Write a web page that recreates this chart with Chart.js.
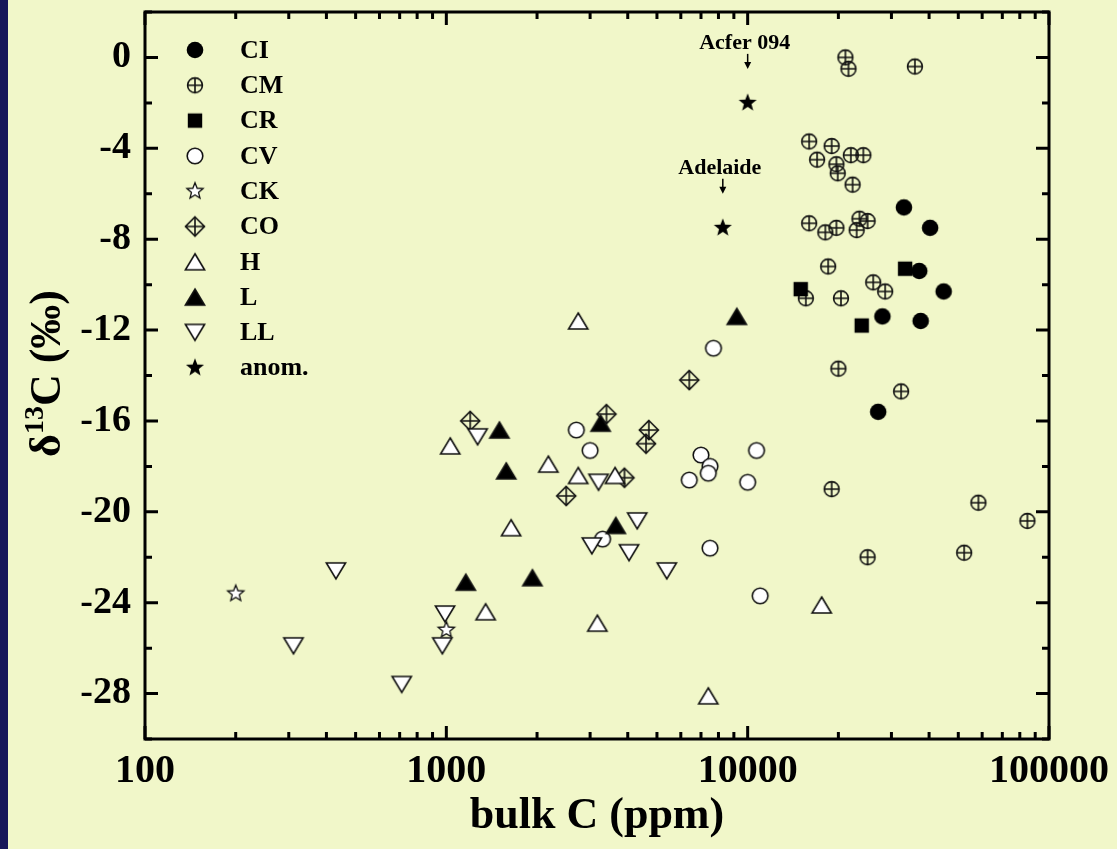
<!DOCTYPE html>
<html>
<head>
<meta charset="utf-8">
<title>bulk C vs d13C</title>
<script src="https://cdn.jsdelivr.net/npm/chart.js@4.4.1/dist/chart.umd.min.js"></script>
<style>
  html, body { margin: 0; padding: 0; background: #F1F7C9; }
  canvas { display: block; }
</style>
</head>
<body>
<canvas id="c13-scatter" width="1117" height="849"></canvas>
<script>
// ---- data: bulk C (ppm) and d13C (permil) per class ----
const ciBulk = [33000, 40300, 37100, 44700, 28000, 37500, 27100];
const ciD13 = [-6.6, -7.5, -9.4, -10.3, -11.4, -11.6, -15.6];

const cmBulk = [21100, 21600, 35900, 16000, 19000, 17000, 22000, 24200, 19700, 19900,
                22300, 16000, 18100, 19700, 23500, 25000, 23000, 18500, 15600, 20400,
                26100, 28600, 20000, 32300, 19000, 25000, 52300, 58300, 84800];
const cmD13 = [0.0, -0.5, -0.4, -3.7, -3.9, -4.5, -4.3, -4.3, -4.7, -5.1,
               -5.6, -7.3, -7.7, -7.5, -7.1, -7.2, -7.6, -9.2, -10.6, -10.6,
               -9.9, -10.3, -13.7, -14.7, -19.0, -22.0, -21.8, -19.6, -20.4];

const crBulk = [15000, 33300, 23900];
const crD13 = [-10.2, -9.3, -11.8];

const cvBulk = [2700, 3000, 7000, 7500, 7400, 6400, 10700, 10000, 3300, 7500, 11000, 7700];
const cvD13 = [-16.4, -17.3, -17.5, -18.0, -18.3, -18.6, -17.3, -18.7, -21.2, -21.6, -23.7, -12.8];

const ckBulk = [200, 1000];
const ckD13 = [-23.6, -25.2];

const coBulk = [1200, 3400, 4700, 4600, 3900, 2500, 6400];
const coD13 = [-16.0, -15.7, -16.4, -17.0, -18.5, -19.3, -14.2];

const hBulk = [1030, 2180, 2740, 3630, 1640, 1350, 3170, 2740, 17600, 7400];
const hD13 = [-17.1, -17.9, -18.4, -18.4, -20.7, -24.4, -24.9, -11.6, -24.1, -28.1];

const lBulk = [1500, 3250, 1580, 3650, 1160, 1930, 9200];
const lD13 = [-16.4, -16.1, -18.2, -20.6, -23.1, -22.9, -11.4];

const llBulk = [1270, 3200, 4300, 3040, 4040, 5390, 990, 430, 311, 711, 970];
const llD13 = [-16.7, -18.7, -20.4, -21.5, -21.8, -22.6, -24.5, -22.6, -25.9, -27.6, -25.9];

const anomBulk = [10000, 8270];
const anomD13 = [-2.0, -7.5];
const anomNames = ['Acfer 094', 'Adelaide'];

const classNames = ['CI', 'CM', 'CR', 'CV', 'CK', 'CO', 'H', 'L', 'LL', 'anom.'];
const xTickVals = [100, 1000, 10000, 100000];
const yTickVals = [-28, -24, -20, -16, -12, -8, -4, 0];

// ---- styling ----
const BG = '#F1F7C9';
const NAVY = '#17175a';
const INK = '#111';
const SERIF = '"Liberation Serif", "Times New Roman", serif';

function markerImage(kind) {
    const S = 28, m = S / 2;
    const c = document.createElement('canvas');
    c.width = S; c.height = S;
    const g = c.getContext('2d');
    g.lineWidth = 1.6;
    g.strokeStyle = INK;
    g.fillStyle = '#fff';

    const star = (ro, ri) => {
        g.beginPath();
        for (let i = 0; i < 10; i++) {
            const r = i % 2 ? ri : ro;
            const a = -Math.PI / 2 + i * Math.PI / 5;
            g.lineTo(m + r * Math.cos(a), m + r * Math.sin(a));
        }
        g.closePath();
    };
    const plus = (r) => {
        g.beginPath();
        g.moveTo(m - r, m); g.lineTo(m + r, m);
        g.moveTo(m, m - r); g.lineTo(m, m + r);
        g.stroke();
    };

    if (kind === 'CI') {
        g.fillStyle = '#000';
        g.beginPath(); g.arc(m, m, 8.3, 0, Math.PI * 2); g.fill();
    } else if (kind === 'CM') {
        g.beginPath(); g.arc(m, m, 7.4, 0, Math.PI * 2); g.stroke();
        plus(7.4);
    } else if (kind === 'CR') {
        g.fillStyle = '#000';
        g.fillRect(m - 7.2, m - 7.2, 14.4, 14.4);
    } else if (kind === 'CV') {
        g.beginPath(); g.arc(m, m, 7.8, 0, Math.PI * 2); g.fill(); g.stroke();
    } else if (kind === 'CK') {
        g.lineWidth = 1.3;
        star(8.5, 3.7); g.fill(); g.stroke();
    } else if (kind === 'CO') {
        g.beginPath();
        g.moveTo(m, m - 9.5); g.lineTo(m + 9.5, m); g.lineTo(m, m + 9.5); g.lineTo(m - 9.5, m);
        g.closePath(); g.stroke();
        plus(9.5);
    } else if (kind === 'H' || kind === 'L') {
        g.beginPath();
        g.moveTo(m, m - 8); g.lineTo(m + 9.6, m + 8); g.lineTo(m - 9.6, m + 8);
        g.closePath();
        if (kind === 'L') { g.fillStyle = '#000'; }
        g.fill(); g.stroke();
    } else if (kind === 'LL') {
        g.beginPath();
        g.moveTo(m - 9.6, m - 8); g.lineTo(m + 9.6, m - 8); g.lineTo(m, m + 8);
        g.closePath(); g.fill(); g.stroke();
    } else if (kind === 'anom.') {
        g.fillStyle = '#000';
        star(9.5, 4.0); g.fill();
    }
    return c;
}

const markers = {};
classNames.forEach(n => { markers[n] = markerImage(n); });

const series = [
    [ciBulk, ciD13], [cmBulk, cmD13], [crBulk, crD13], [cvBulk, cvD13], [ckBulk, ckD13],
    [coBulk, coD13], [hBulk, hD13], [lBulk, lD13], [llBulk, llD13], [anomBulk, anomD13]
];

const datasets = classNames.map((name, i) => ({
    label: name,
    data: series[i][0].map((x, k) => ({ x: x, y: series[i][1][k] })),
    pointStyle: markers[name],
    pointRadius: 9,
    pointHoverRadius: 9,
    showLine: false
}));
// later legend entries sit underneath in the original
datasets.reverse();

const framePlugin = {
    id: 'frame',
    beforeDraw(chart) {
        const ctx = chart.ctx;
        ctx.save();
        ctx.fillStyle = BG;
        ctx.fillRect(0, 0, chart.width, chart.height);
        ctx.fillStyle = NAVY;
        ctx.fillRect(0, 0, 8, chart.height);
        ctx.restore();
    },
    afterDraw(chart) {
        const ctx = chart.ctx;
        const { left, right, top, bottom } = chart.chartArea;
        const xs = chart.scales.x, ys = chart.scales.y;
        ctx.save();
        ctx.strokeStyle = '#000';
        ctx.lineWidth = 3;

        // inward ticks on all four sides
        ctx.beginPath();
        for (let e = 2; e <= 5; e++) {
            for (let k = 1; k <= 9; k++) {
                const v = k * Math.pow(10, e);
                if (v > 100000) break;
                const px = xs.getPixelForValue(v);
                const len = k === 1 ? 13 : 7;
                ctx.moveTo(px, bottom); ctx.lineTo(px, bottom - len);
                ctx.moveTo(px, top); ctx.lineTo(px, top + len);
            }
        }
        for (let v = -30; v <= 2; v += 2) {
            const py = ys.getPixelForValue(v);
            const len = v % 4 === 0 ? 13 : 7;
            ctx.moveTo(left, py); ctx.lineTo(left + len, py);
            ctx.moveTo(right, py); ctx.lineTo(right - len, py);
        }
        ctx.stroke();
        ctx.strokeRect(left, top, right - left, bottom - top);

        // y axis title with superscript, centred on the plot height
        ctx.fillStyle = '#000';
        ctx.translate(60, (top + bottom) / 2 - 2);
        ctx.rotate(-Math.PI / 2);
        ctx.textBaseline = 'alphabetic';
        const big = 'bold 44px ' + SERIF, small = 'bold 28px ' + SERIF;
        const parts = [['\u03B4', big, 0], ['13', small, -17], ['C (\u2030)', big, 0]];
        let w = 0;
        parts.forEach(p => { ctx.font = p[1]; w += ctx.measureText(p[0]).width; });
        let cx = -w / 2;
        parts.forEach(p => {
            ctx.font = p[1];
            ctx.fillText(p[0], cx, p[2]);
            cx += ctx.measureText(p[0]).width;
        });
        ctx.setTransform(1, 0, 0, 1, 0, 0);

        // legend in the upper left corner
        ctx.font = 'bold 26px ' + SERIF;
        ctx.textBaseline = 'middle';
        ctx.textAlign = 'left';
        classNames.forEach((name, i) => {
            const y = 50 + i * 35.3;
            const img = markers[name];
            ctx.drawImage(img, 195 - img.width / 2, y - img.height / 2);
            ctx.fillText(name, 240, y + 1);
        });

        // labels for the anomalous meteorites
        ctx.font = 'bold 22px ' + SERIF;
        ctx.textAlign = 'center';
        ctx.lineWidth = 1.5;
        anomNames.forEach((name, i) => {
            const px = xs.getPixelForValue(anomBulk[i]);
            const py = ys.getPixelForValue(anomD13[i]);
            ctx.fillText(name, px - 3, py - 60);
            ctx.beginPath();
            ctx.moveTo(px, py - 49); ctx.lineTo(px, py - 38);
            ctx.stroke();
            ctx.beginPath();
            ctx.moveTo(px - 3.5, py - 41); ctx.lineTo(px + 3.5, py - 41); ctx.lineTo(px, py - 34);
            ctx.closePath(); ctx.fill();
        });
        ctx.restore();
    }
};

new Chart(document.getElementById('c13-scatter'), {
    type: 'scatter',
    data: { datasets: datasets },
    options: {
        responsive: false,
        animation: false,
        layout: { padding: { top: 12, right: 68, left: 0, bottom: 0 } },
        plugins: { legend: { display: false }, tooltip: { enabled: false } },
        scales: {
            x: {
                type: 'logarithmic',
                min: 100,
                max: 100000,
                afterBuildTicks: s => { s.ticks = xTickVals.map(v => ({ value: v, major: true })); },
                afterFit: s => { s.height = 110; s.paddingLeft = 0; s.paddingRight = 0; },
                grid: { display: false, drawTicks: false },
                border: { display: false },
                ticks: {
                    color: '#000',
                    font: { family: SERIF, size: 40, weight: 'bold' },
                    padding: 9,
                    maxRotation: 0,
                    autoSkip: false,
                    callback: v => String(v)
                },
                title: {
                    display: true,
                    text: 'bulk C (ppm)',
                    color: '#000',
                    font: { family: SERIF, size: 44, weight: 'bold', lineHeight: 1.2 },
                    padding: { top: 0, bottom: 6 }
                }
            },
            y: {
                min: -30,
                max: 2,
                afterBuildTicks: s => { s.ticks = yTickVals.map(v => ({ value: v })); },
                afterFit: s => { s.width = 145; s.paddingTop = 0; s.paddingBottom = 0; },
                grid: { display: false, drawTicks: false },
                border: { display: false },
                ticks: {
                    color: '#000',
                    font: { family: SERIF, size: 38, weight: 'bold' },
                    padding: 14,
                    autoSkip: false,
                    callback: v => String(v)
                }
            }
        }
    },
    plugins: [framePlugin]
});
</script>
</body>
</html>
